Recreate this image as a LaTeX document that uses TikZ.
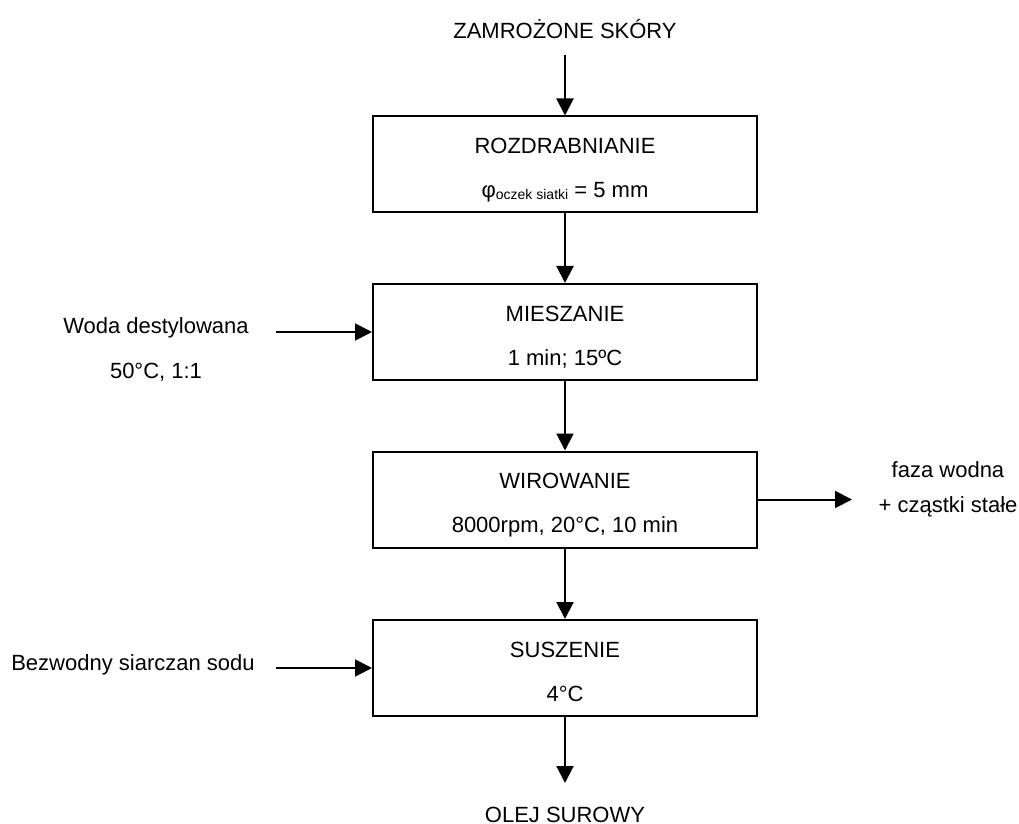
\documentclass[tikz,border=0pt]{standalone}
\usepackage{fontspec}
\setmainfont{Liberation Sans}
\usetikzlibrary{positioning,arrows.meta}

\begin{document}
\begin{tikzpicture}[x=0.5pt,y=-0.5pt,stage/.style={draw,rectangle,line width=1pt,minimum width=192pt,minimum height=48pt,inner sep=0pt,align=center,font=\fontsize{11}{22}\selectfont},note/.style={inner sep=0pt,anchor=base,font=\fontsize{11}{13}\selectfont},flow/.style={line width=1pt,-{Triangle[length=8.5pt,width=8.5pt]}}]
\useasboundingbox (0,0) rectangle (1019,824);
\foreach \n/\y/\a/\b in {R/164.5/ROZDRABNIANIE/{φ\raisebox{-1pt}{\fontsize{7}{8}\selectfont oczek siatki} = 5 mm},M/332/MIESZANIE/{1 min; 15ºC},W/499.5/WIROWANIE/{8000rpm, 20°C, 10 min},S/668/SUSZENIE/4°C} {
   \node[stage] (\n) at (565,\y) {\rule{0pt}{13pt}\a\\\b\rule[-2pt]{0pt}{0pt}};
}
\node[note] (skory) at (565,39) {ZAMROŻONE SKÓRY};
\node[note] (olej) at (565,822) {OLEJ SUROWY};
\node[note] (woda) at (156,334) {Woda destylowana};
\node[note] (wodaT) at (156,379) {50°C, 1:1};
\node[note] (siarczan) at (133,670) {Bezwodny siarczan sodu};
\node[note] (faza) at (948,477) {faza wodna};
\node[note] (czastki) at (948,512) {+ cząstki stałe};

\coordinate (top) at (565,55);
\coordinate (bottom) at (565,783);
\coordinate (wodaIn) at (276,332);
\coordinate (sodIn) at (276,668);
\coordinate (fazaOut) at (852,499.5);
\foreach \i/\j in {top/R,R/M,M/W,W/S,S/bottom} {
  \draw[flow] (\i) -- (\j);
}
% inputs and output
\draw[flow] (wodaIn) -- (M.west);
\draw[flow] (sodIn) -- (S.west);
\draw[flow] (W.east) -- (fazaOut);
\end{tikzpicture}
\end{document}
